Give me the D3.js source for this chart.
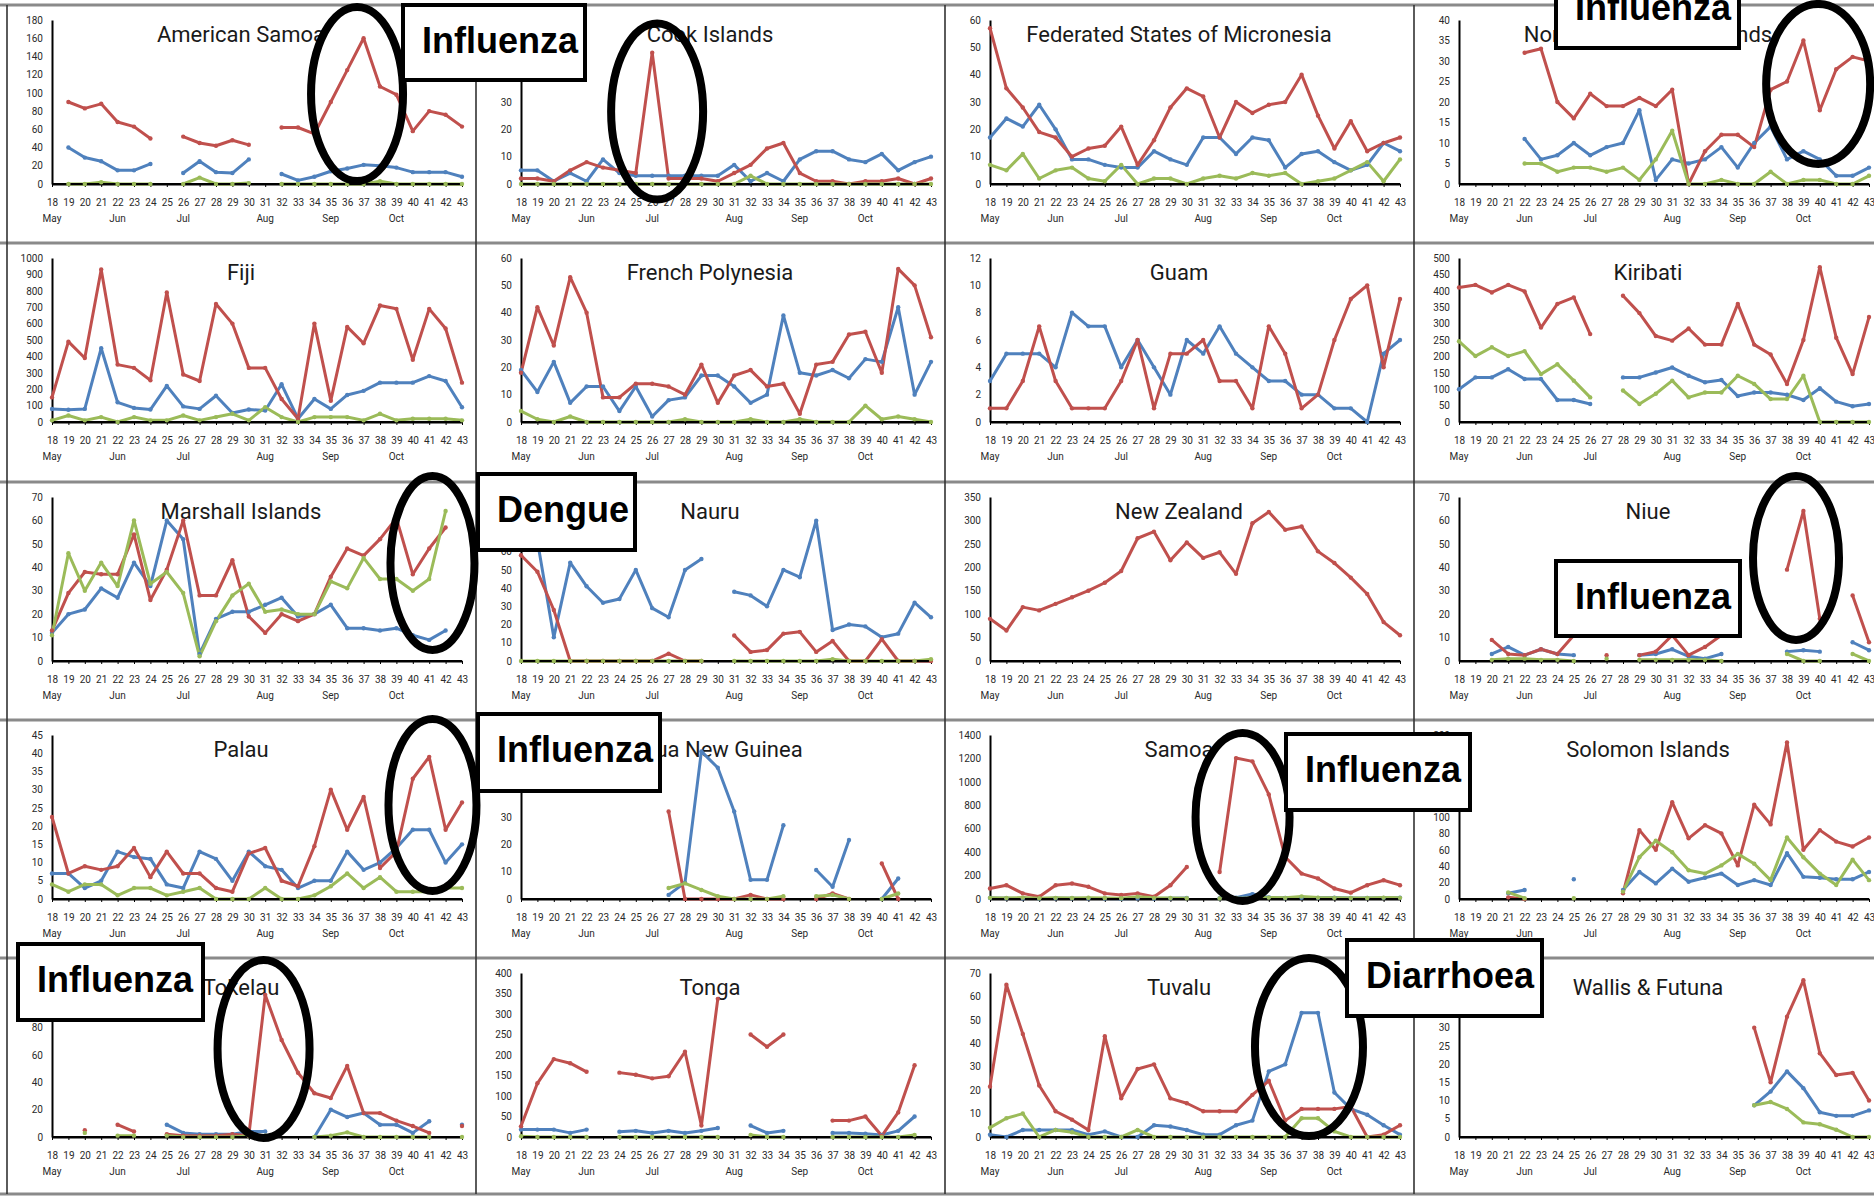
<!DOCTYPE html>
<html>
<head>
<meta charset="utf-8">
<script src="https://cdn.jsdelivr.net/npm/d3@7"></script>
<style>
  body { margin: 0; background: #fff; }
  svg { display: block; }
</style>
</head>
<body>
<svg id="chart"></svg>
<script>
// weeks 18..43, month markers under the week numbers
const weeks = [18, 19, 20, 21, 22, 23, 24, 25, 26, 27, 28, 29, 30, 31, 32, 33, 34, 35, 36, 37, 38, 39, 40, 41, 42, 43];
const monthLabels = ['May', 'Jun', 'Jul', 'Aug', 'Sep', 'Oct'];
const monthWeeks = [18, 22, 26, 31, 35, 39];

const countries = ['American Samoa', 'Cook Islands', 'Federated States of Micronesia', 'Northern Mariana Islands',
  'Fiji', 'French Polynesia', 'Guam', 'Kiribati',
  'Marshall Islands', 'Nauru', 'New Zealand', 'Niue',
  'Palau', 'Papua New Guinea', 'Samoa', 'Solomon Islands',
  'Tokelau', 'Tonga', 'Tuvalu', 'Wallis & Futuna'];
const yMax = [180, 60, 60, 40, 1000, 60, 12, 500, 70, 90, 350, 70, 45, 60, 1400, 200, 120, 400, 70, 45];
const yStep = [20, 10, 10, 5, 100, 10, 2, 50, 10, 10, 50, 10, 5, 10, 200, 20, 20, 50, 10, 5];

// series (red / blue / green), null = no report that week
const amSamoaRed = [null, 90, 83, 88, 68, 63, 50, null, 52, 45, 42, 48, 43, null, 62, 62, 55, 90, 125, 160, 107, 98, 58, 80, 76, 63];
const amSamoaBlue = [null, 40, 29, 25, 15, 15, 22, null, 12, 25, 13, 12, 27, null, 11, 4, 8, 14, 17, 21, 20, 18, 13, 13, 13, 8];
const amSamoaGreen = [null, 0, 0, 2, 0, 0, 0, null, 0, 7, 0, 0, 1, null, 0, 0, 0, 0, 0, 0, 3, 0, 0, 0, 0, 0];

const cookRed = [2, 2, 1, 5, 8, 6, 5, 4, 48, 2, 2, 2, 1, 4, 7, 13, 15, 4, 1, 1, 0, 1, 1, 2, 0, 2];
const cookBlue = [5, 5, 1, 4, 1, 9, 4, 3, 3, 3, 3, 3, 3, 7, 1, 4, 1, 9, 12, 12, 9, 8, 11, 5, 8, 10];
const cookGreen = [0, 0, 0, 0, 0, 0, 0, 0, 0, 0, 0, 0, 0, 0, 3, 0, 0, 0, 0, 0, 0, 0, 0, 0, 0, 0];

const fsmRed = [57, 35, 28, 19, 17, 10, 13, 14, 21, 7, 16, 28, 35, 32, 17, 30, 26, 29, 30, 40, 25, 13, 23, 12, 15, 17];
const fsmBlue = [17, 24, 21, 29, 20, 9, 9, 7, 6, 6, 12, 9, 7, 17, 17, 11, 17, 16, 6, 11, 12, 8, 5, 7, 15, 12];
const fsmGreen = [7, 5, 11, 2, 5, 6, 2, 1, 7, 0, 2, 2, 0, 2, 3, 2, 4, 3, 4, 0, 1, 2, 5, 8, 1, 9];

const nMarianaRed = [null, null, null, null, 32, 33, 20, 16, 22, 19, 19, 21, 19, 23, 0, 8, 12, 12, 9, 23, 25, 35, 18, 28, 31, 30];
const nMarianaBlue = [null, null, null, null, 11, 6, 7, 10, 7, 9, 10, 18, 1, 6, 5, 6, 9, 4, 10, 14, 6, 8, 6, 2, 2, 4];
const nMarianaGreen = [null, null, null, null, 5, 5, 3, 4, 4, 3, 4, 1, 6, 13, 0, 0, 1, 0, 0, 3, 0, 1, 1, 0, 0, 2];

const fijiRed = [150, 490, 390, 930, 350, 330, 255, 790, 290, 250, 720, 600, 330, 330, 140, 20, 600, 130, 580, 480, 710, 690, 380, 690, 570, 240];
const fijiBlue = [80, 75, 80, 450, 120, 86, 76, 220, 95, 80, 160, 55, 76, 70, 230, 20, 140, 80, 165, 190, 240, 240, 240, 280, 250, 90];
const fijiGreen = [10, 40, 10, 30, 0, 30, 10, 10, 40, 10, 30, 50, 10, 90, 30, 0, 30, 30, 30, 10, 50, 10, 20, 20, 20, 10];

const frPolyRed = [18, 42, 28, 53, 40, 9, 9, 14, 14, 13, 10, 21, 7, 17, 19, 13, 14, 3, 21, 22, 32, 33, 18, 56, 50, 31];
const frPolyBlue = [19, 11, 22, 7, 13, 13, 4, 13, 2, 8, 9, 17, 17, 13, 7, 10, 39, 18, 17, 19, 16, 23, 22, 42, 10, 22];
const frPolyGreen = [4, 1, 0, 2, 0, 0, 0, 0, 0, 0, 1, 0, 0, 0, 1, 0, 0, 1, 0, 0, 0, 6, 1, 2, 1, 0];

const guamRed = [1, 1, 3, 7, 3, 1, 1, 1, 3, 6, 1, 5, 5, 6, 3, 3, 1, 7, 5, 1, 2, 6, 9, 10, 4, 9];
const guamBlue = [3, 5, 5, 5, 4, 8, 7, 7, 4, 6, 4, 2, 6, 5, 7, 5, 4, 3, 3, 2, 2, 1, 1, 0, 5, 6];
const guamGreen = [];

const kiribatiRed = [410, 418, 395, 418, 398, 288, 360, 380, 268, null, 385, 332, 262, 248, 285, 236, 236, 360, 236, 206, 116, 250, 472, 257, 146, 320];
const kiribatiBlue = [100, 136, 136, 161, 131, 131, 67, 67, 55, null, 136, 136, 151, 166, 141, 121, 128, 79, 90, 90, 83, 67, 103, 62, 48, 55];
const kiribatiGreen = [246, 201, 228, 201, 216, 146, 176, 126, 75, null, 96, 55, 86, 126, 75, 90, 90, 141, 116, 70, 70, 141, 0, 0, 0, 0];

const marshallRed = [13, 29, 38, 37, 37, 54, 26, 39, 60, 28, 28, 43, 19, 12, 20, 17, 20, 36, 48, 45, 52, 61, 37, 48, 57, null];
const marshallBlue = [12, 20, 22, 31, 27, 42, 32, 60, 52, 3, 18, 21, 21, 24, 27, 19, 20, 24, 14, 14, 13, 14, 11, 9, 13, null];
const marshallGreen = [11, 46, 30, 42, 32, 60, 33, 38, 29, 2, 17, 28, 33, 21, 22, 20, 20, 34, 31, 44, 35, 35, 30, 35, 64, null];

const nauruRed = [58, 49, 28, 0, 0, 0, 0, 0, 0, 4, 0, 0, null, 14, 5, 6, 15, 16, 5, 11, 0, 0, 12, 0, 0, 0];
const nauruBlue = [78, 66, 13, 54, 41, 32, 34, 50, 29, 24, 50, 56, null, 38, 36, 30, 50, 46, 77, 17, 20, 19, 13, 15, 32, 24];
const nauruGreen = [0, 0, 0, 0, 0, 0, 0, 0, 0, 0, 0, 0, null, 0, 0, 0, 0, 0, 0, 1, 0, 0, 0, 0, 0, 1];

const nzRed = [90, 65, 115, 108, 122, 136, 150, 167, 192, 262, 276, 215, 253, 220, 232, 186, 294, 318, 280, 287, 234, 209, 178, 143, 83, 55];
const nzBlue = [];
const nzGreen = [];

const niueRed = [null, null, 9, 3, 2.5, 5, 3, 11, null, 2.5, null, 2.5, 4, 11, 2.5, 6, 11, null, null, null, 39, 64, 18, null, 28, 8];
const niueBlue = [null, null, 3, 6, 2.5, 5, 3, 2.5, null, null, null, 2.5, 3, 5, 2, 1, 3, null, null, null, 4, 4.6, 4, null, 8, 4.6];
const niueGreen = [null, null, 0.5, 1, 1, 0.5, 0.5, 0, null, 1, null, 0.5, 0.5, 0.5, 0.5, 0.5, 0, null, null, null, 3, 0, 0, null, 3, 0];

const palauRed = [22.5, 7, 9, 8, 9, 14, 6, 13, 7, 7, 3, 2, 12.5, 14, 5, 3.5, 14.5, 30, 19, 28, 8.5, 13, 33, 39, 19, 26.5];
const palauBlue = [7, 7, 3, 5, 13, 11.5, 11, 4, 3, 13, 11, 5, 13, 9, 8, 3, 5, 5, 13, 8, 10, 14, 19, 19, 10, 15];
const palauGreen = [4, 2, 4, 4, 1, 3, 3, 1, 2, 3, 0, 0, 0, 3, 0, 0, 1, 3.5, 7, 3, 6, 2, 2, 2, 3, 3];

const pngRed = [null, null, null, null, null, null, null, null, null, 32, 0, 0, 0, 0, 1.5, 0, 0, null, 0, 2, 0, null, 13, 0, null, null];
const pngBlue = [null, null, null, null, null, null, null, null, null, 1.5, 6, 54, 48, 32, 7, 7, 27, null, 10.6, 4.5, 21.6, null, 0, 7.5, null, null];
const pngGreen = [null, null, null, null, null, null, null, null, null, 4, 5.7, 3.3, 1, 0, 0, 0, 1, null, 1, 1.5, 0, null, 0, 2, null, null];

const samoaRed = [90, 118, 48, 20, 118, 132, 104, 48, 34, 48, 20, 118, 273, null, 231, 1203, 1175, 893, 358, 217, 175, 90, 54, 118, 160, 118];
const samoaBlue = [8, 6, 5, 4, 6, 7, 5, 4, 3, 5, 4, 6, 8, null, 6, 12, 42, 14, 9, 11, 10, 12, 9, 8, 10, 11];
const samoaGreen = [10, 8, 12, 6, 10, 9, 11, 8, 7, 20, 10, 8, 6, null, 5, 6, 8, 12, 10, 22, 12, 10, 8, 9, 12, 10];

const solomonRed = [null, null, null, 2, 0, null, null, null, null, null, 7, 84, 60, 118, 74, 90, 80, 41, 115, 91, 191, 60, 84, 70, 64, 75];
const solomonBlue = [null, null, null, 7, 11, null, null, 24, null, null, 11, 33, 19, 37, 21, 26, 31, 17, 23, 17, 56, 27, 26, 24, 24, 33];
const solomonGreen = [null, null, null, 8, 1, null, null, 1, null, null, 9, 51, 71, 57, 35, 31, 41, 55, 43, 23, 75, 51, 31, 17, 48, 23];

const tokelauRed = [null, null, 5, null, 9, 4, null, 2, 1, 1, 1, 2, 1, 104, 71, 47, 32, 28.5, 52, 17.5, 17.5, 12, 8, 3, null, 8];
const tokelauBlue = [null, null, null, null, null, null, null, 9, 3, 2, 2, 2, 4, 4, null, null, 0, 20, 14.6, 17.5, 9, 9, 3, 11.5, null, 9];
const tokelauGreen = [null, null, 3, null, 1, 1, null, 1, 0, 0, 0, 0, 1, 1, null, null, 0, 1, 3.4, 0, 0, 0, 0, 0, null, 0];

const tongaRed = [26, 131, 190, 180, 159, null, 157, 152, 143, 148, 208, 28, 337, null, 250, 220, 250, null, null, 40, 40, 50, 3, 60, 175, null];
const tongaBlue = [18, 18, 18, 10, 18, null, 13, 15, 10, 15, 10, 15, 22, null, 28, 10, 15, null, null, 10, 10, 8, 5, 15, 50, null];
const tongaGreen = [2, 0, 0, 0, 0, null, 0, 0, 0, 0, 0, 0, 0, null, 5, 0, 0, null, null, 0, 0, 0, 0, 0, 5, null];

const tuvaluRed = [21.5, 65, 44, 22, 11, 7.4, 3, 43, 16.5, 29, 31, 16.5, 14.4, 11, 11, 11, 18, 24, 7, 12, 12, 12, 13, 0, 1, 5];
const tuvaluBlue = [1, 0, 3, 3, 3, 3, 1, 2.4, 0, 0, 5, 4.5, 3, 1, 1, 5, 7, 28, 31, 53, 53, 19, 12, 9.5, 5, 1];
const tuvaluGreen = [4, 8, 10, 0, 3, 2, 0, 0, 0, 3, 0, 0, 0, 0, 0, 0, 0, 0, 0, 8, 8, 2.4, 0, 0, 0, 0];

const wallisRed = [null, null, null, null, null, null, null, null, null, null, null, null, null, null, null, null, null, null, 30, 15, 33, 43, 23, 17, 17.6, 10];
const wallisBlue = [null, null, null, null, null, null, null, null, null, null, null, null, null, null, null, null, null, null, 8.7, 12.5, 18, 13.4, 6.8, 5.8, 5.8, 7.3];
const wallisGreen = [null, null, null, null, null, null, null, null, null, null, null, null, null, null, null, null, null, null, 8.7, 9.6, 7.7, 4, 3.5, 2, 0, 0];

const redSeries = [amSamoaRed, cookRed, fsmRed, nMarianaRed, fijiRed, frPolyRed, guamRed, kiribatiRed, marshallRed, nauruRed,
  nzRed, niueRed, palauRed, pngRed, samoaRed, solomonRed, tokelauRed, tongaRed, tuvaluRed, wallisRed];
const blueSeries = [amSamoaBlue, cookBlue, fsmBlue, nMarianaBlue, fijiBlue, frPolyBlue, guamBlue, kiribatiBlue, marshallBlue, nauruBlue,
  nzBlue, niueBlue, palauBlue, pngBlue, samoaBlue, solomonBlue, tokelauBlue, tongaBlue, tuvaluBlue, wallisBlue];
const greenSeries = [amSamoaGreen, cookGreen, fsmGreen, nMarianaGreen, fijiGreen, frPolyGreen, guamGreen, kiribatiGreen, marshallGreen, nauruGreen,
  nzGreen, niueGreen, palauGreen, pngGreen, samoaGreen, solomonGreen, tokelauGreen, tongaGreen, tuvaluGreen, wallisGreen];

// hand-drawn call-outs: ellipse centre given in the panel's data units
const circleNotes = [
  { panel: 0, week: 36.6, value: 98.8, rx: 46, ry: 87 },
  { panel: 1, week: 26.3, value: 26.5, rx: 46, ry: 88 },
  { panel: 3, week: 39.9, value: 24.4, rx: 52, ry: 80 },
  { panel: 8, week: 41.2, value: 41.8, rx: 42, ry: 87 },
  { panel: 11, week: 38.55, value: 44, rx: 43, ry: 82 },
  { panel: 12, week: 41.2, value: 25.8, rx: 44, ry: 86 },
  { panel: 14, week: 33.4, value: 700, rx: 47, ry: 84 },
  { panel: 16, week: 30.9, value: 64.4, rx: 46, ry: 89 },
  { panel: 18, week: 37.45, value: 38.4, rx: 54, ry: 89 }
];
const boxNotes = [
  { panel: 0, dx: 396, dy: 0, w: 182, h: 75, label: 'Influenza' },
  { panel: 3, dx: 142, dy: -33, w: 183, h: 76, label: 'Influenza' },
  { panel: 9, dx: 2, dy: -8, w: 157, h: 76, label: 'Dengue' },
  { panel: 11, dx: 142, dy: 79, w: 184, h: 75, label: 'Influenza' },
  { panel: 13, dx: 2, dy: -6, w: 182, h: 77, label: 'Influenza' },
  { panel: 14, dx: 341, dy: 14, w: 184, h: 76, label: 'Influenza' },
  { panel: 16, dx: 11, dy: -14, w: 185, h: 76, label: 'Influenza' },
  { panel: 18, dx: 402, dy: -18, w: 195, h: 76, label: 'Diarrhoea' }
];

const W = 1874, H = 1196;
const colLeft = [7, 476, 945, 1414];
const rowTop = [5, 243, 482, 720, 958];
const panelW = 468;
const plotL = 45, plotR = 455, plotT = 15, plotB = 179;
const colors = { red: '#C0504D', blue: '#4F81BD', green: '#9BBB59' };
const tickFont = 'Roboto, "DejaVu Sans", sans-serif';

const svg = d3.select('#chart')
  .attr('width', W)
  .attr('height', H)
  .style('background-color', 'white');

// grid of frames
const frame = svg.append('g').attr('class', 'frames');
frame.selectAll('line.h')
  .data(rowTop.concat([1194]))
  .enter()
  .append('line')
  .attr('x1', 0).attr('x2', W)
  .attr('y1', d => d).attr('y2', d => d)
  .attr('stroke', '#8a8a8a')
  .attr('stroke-width', 3);
frame.selectAll('line.v')
  .data(colLeft)
  .enter()
  .append('line')
  .attr('x1', d => d).attr('x2', d => d)
  .attr('y1', rowTop[0]).attr('y2', 1194)
  .attr('stroke', '#333')
  .attr('stroke-width', 1.6);

const panels = [];

countries.forEach((name, i) => {
  const c = i % 4, r = Math.floor(i / 4);
  const g = svg.append('g')
    .attr('class', 'panel')
    .attr('transform', `translate(${colLeft[c]},${rowTop[r]})`);

  const x = d3.scalePoint().domain(weeks).range([plotL, plotR]);
  const y = d3.scaleLinear().domain([0, yMax[i]]).range([plotB, plotT]);
  panels.push({ g, x, y, left: colLeft[c], top: rowTop[r] });

  g.append('text')
    .attr('x', panelW / 2)
    .attr('y', 37)
    .attr('text-anchor', 'middle')
    .attr('font-family', tickFont)
    .attr('font-size', 22)
    .attr('fill', '#1a1a1a')
    .text(name);

  // y axis
  const yAxis = g.append('g')
    .attr('transform', `translate(${plotL},0)`)
    .call(d3.axisLeft(y)
      .tickValues(d3.range(0, yMax[i] + yStep[i] / 2, yStep[i]))
      .tickFormat(d3.format('d'))
      .tickSize(0)
      .tickPadding(9));
  yAxis.select('.domain').attr('stroke', '#000').attr('stroke-width', 2);
  yAxis.selectAll('text')
    .attr('font-family', tickFont)
    .attr('font-size', 10)
    .attr('fill', '#2a2a2a');

  // x axis (week numbers)
  const xAxis = g.append('g')
    .attr('transform', `translate(0,${plotB})`)
    .call(d3.axisBottom(x).tickSize(3).tickPadding(12).tickSizeOuter(0));
  xAxis.select('.domain').attr('stroke', '#000').attr('stroke-width', 2);
  xAxis.selectAll('.tick line').attr('stroke', '#000');
  xAxis.selectAll('text')
    .attr('font-family', tickFont)
    .attr('font-size', 10)
    .attr('fill', '#2a2a2a');

  g.append('g')
    .selectAll('text')
    .data(monthLabels)
    .enter()
    .append('text')
    .attr('x', (d, k) => x(monthWeeks[k]))
    .attr('y', 217)
    .attr('text-anchor', 'middle')
    .attr('font-family', tickFont)
    .attr('font-size', 10)
    .attr('fill', '#2a2a2a')
    .text(d => d);

  const series = [
    { key: 'blue', values: blueSeries[i] },
    { key: 'red', values: redSeries[i] },
    { key: 'green', values: greenSeries[i] }
  ].filter(s => s.values.length);

  const line = d3.line()
    .defined(d => d.v !== null)
    .x(d => x(d.w))
    .y(d => y(d.v));

  series.forEach(s => {
    const pts = s.values.map((v, k) => ({ w: weeks[k], v }));
    g.append('path')
      .datum(pts)
      .attr('fill', 'none')
      .attr('stroke', colors[s.key])
      .attr('stroke-width', 3)
      .attr('stroke-linejoin', 'round')
      .attr('d', line);
  });

  // baseline drawn over the series, like the original's dashed look
  g.append('line')
    .attr('x1', x(weeks[0])).attr('x2', x(weeks[weeks.length - 1]))
    .attr('y1', y(0)).attr('y2', y(0))
    .attr('stroke', '#000')
    .attr('stroke-width', 2);

  series.forEach(s => {
    const pts = s.values.map((v, k) => ({ w: weeks[k], v })).filter(d => d.v !== null);
    g.append('g')
      .selectAll('circle')
      .data(pts)
      .enter()
      .append('circle')
      .attr('cx', d => x(d.w))
      .attr('cy', d => y(d.v))
      .attr('r', 2.2)
      .attr('fill', colors[s.key]);
  });
});

// call-outs on top
const notes = svg.append('g').attr('class', 'notes');

circleNotes.forEach(n => {
  const p = panels[n.panel];
  const cx = p.left + p.x(weeks[0]) + (n.week - weeks[0]) * p.x.step();
  const cy = p.top + p.y(n.value);
  notes.append('ellipse')
    .attr('cx', cx)
    .attr('cy', cy)
    .attr('rx', n.rx)
    .attr('ry', n.ry)
    .attr('fill', 'none')
    .attr('stroke', '#000')
    .attr('stroke-width', 8);
});

boxNotes.forEach(n => {
  const p = panels[n.panel];
  const bx = p.left + n.dx, by = p.top + n.dy;
  notes.append('rect')
    .attr('x', bx).attr('y', by)
    .attr('width', n.w).attr('height', n.h)
    .attr('fill', '#fff')
    .attr('stroke', '#000')
    .attr('stroke-width', 4);
  notes.append('text')
    .attr('x', bx + 19)
    .attr('y', by + 48)
    .attr('font-family', '"Liberation Sans", Arial, sans-serif')
    .attr('font-weight', 'bold')
    .attr('font-size', 36)
    .attr('fill', '#000')
    .text(n.label);
});
</script>
</body>
</html>
